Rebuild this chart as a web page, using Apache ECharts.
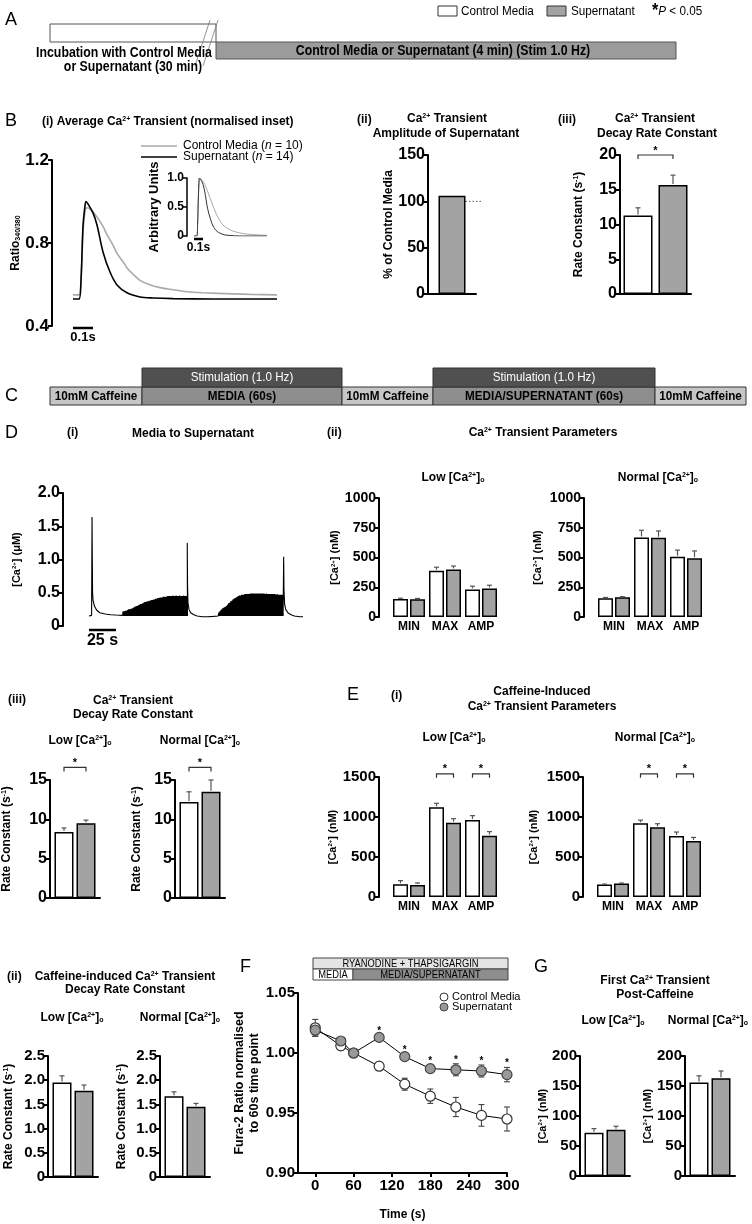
<!DOCTYPE html>
<html><head><meta charset="utf-8">
<script src="https://cdn.jsdelivr.net/npm/echarts@6/dist/echarts.min.js"></script>
<style>html,body{margin:0;padding:0;background:#fff}#c{width:752px;height:1224px}</style>
</head><body><div id="c"></div><script>
// ---------------- DATA ----------------
// B(i) average Ca transient (time in s, Fura-2 ratio)
const bTimeCtrl = [0,0.03,0.04,0.05,0.06,0.07,0.09,0.12,0.15,0.17,0.20,0.22,0.25,0.27,0.30,0.335,0.38,0.435,0.5,0.57,0.65,0.8,0.9,1.02];
const bRatioCtrl = [0.55,0.55,0.62,0.85,0.95,0.97,0.96,0.925,0.88,0.84,0.79,0.75,0.71,0.68,0.65,0.62,0.60,0.585,0.575,0.565,0.56,0.555,0.552,0.55];
const bTimeSup = [0,0.03,0.04,0.05,0.06,0.065,0.08,0.10,0.12,0.15,0.185,0.22,0.27,0.335,0.40,0.50,0.70,0.90,1.02];
const bRatioSup = [0.53,0.53,0.62,0.88,0.98,1.0,0.98,0.945,0.887,0.757,0.66,0.598,0.56,0.54,0.535,0.532,0.53,0.53,0.53];
// B(i) inset (normalised)
const insetTimeCtrl = [0,0.03,0.04,0.05,0.07,0.09,0.12,0.17,0.22,0.27,0.335,0.435,0.57,0.70,0.81];
const insetNormCtrl = [0,0,0.2,0.7,1.0,0.96,0.89,0.69,0.48,0.31,0.17,0.083,0.036,0.02,0.012];
const insetTimeSup = [0,0.03,0.04,0.05,0.06,0.08,0.10,0.12,0.15,0.185,0.22,0.27,0.335,0.40,0.50,0.81];
const insetNormSup = [0,0,0.2,0.75,1.0,0.96,0.89,0.76,0.48,0.28,0.145,0.064,0.02,0.01,0,0];
const bScaleBar = 0.1; // s
// B(ii)
const bAmpSup = [106];
const bAmpRef = [100];
// B(iii)
const bDecayCtrl = [11.3], bDecayCtrlErr = [1.1];
const bDecaySup = [15.7], bDecaySupErr = [1.4];
const bDecayBracket = [[0, 20]];
// D(i) trace (time s, [Ca] uM)
const dRest1 = [[0,0.15],[2.4,0.16],[2.8,1.64],[3.1,0.95],[3.3,0.5],[3.8,0.38],[5,0.3],[7,0.24],[10,0.2],[15,0.18],[20,0.17],[25,0.165],[31,0.16]];
const dRest2 = [[90.6,0.16],[90.9,1.25],[91.2,0.6],[91.6,0.35],[92.5,0.25],[94,0.2],[97,0.17],[100,0.15],[105,0.14],[110,0.14],[115,0.145],[119.5,0.15]];
const dRest3 = [[179.8,0.16],[180.1,1.04],[180.4,0.55],[181,0.33],[182,0.25],[184,0.2],[187,0.17],[190,0.15],[195,0.14],[198,0.14]];
const dBlockStart = [31.5, 120];
const dDiastolic = 0.15;
const block1Peaks = [0.22,0.22,0.23,0.23,0.24,0.25,0.25,0.26,0.26,0.27,
  0.28,0.29,0.30,0.30,0.31,0.32,0.33,0.33,0.34,0.35,
  0.36,0.36,0.37,0.37,0.38,0.38,0.39,0.39,0.40,0.40,
  0.41,0.41,0.42,0.42,0.43,0.43,0.43,0.44,0.44,0.44,
  0.44,0.45,0.45,0.45,0.45,0.45,0.46,0.45,0.45,0.46,
  0.45,0.45,0.46,0.45,0.45,0.45,0.46,0.45,0.45,0.45];
const block2Peaks = [0.20,0.22,0.24,0.26,0.27,0.28,0.29,0.30,0.32,0.34,
  0.35,0.37,0.38,0.40,0.41,0.42,0.43,0.44,0.45,0.46,
  0.46,0.47,0.47,0.47,0.48,0.48,0.48,0.48,0.48,0.49,
  0.49,0.49,0.49,0.49,0.49,0.49,0.49,0.49,0.49,0.49,
  0.49,0.49,0.49,0.48,0.49,0.48,0.48,0.48,0.48,0.48,
  0.48,0.48,0.48,0.47,0.48,0.47,0.47,0.47,0.47,0.47];
const dScaleBar = 25; // s
// D(ii) transient parameters (nM)
const paramCats = ['MIN','MAX','AMP'];
const dLowCtrl = [152,388,232], dLowCtrlErr = [6,30,27];
const dLowSup = [150,400,240], dLowSupErr = [6,28,27];
const dNormCtrl = [158,669,507], dNormCtrlErr = [6,60,55];
const dNormSup = [165,666,493], dNormSupErr = [6,57,62];
// D(iii) decay rate constants (s-1)
const dDecLowCtrl = [8.4], dDecLowCtrlErr = [0.5];
const dDecLowSup = [9.5], dDecLowSupErr = [0.4];
const dDecNormCtrl = [12.2], dDecNormCtrlErr = [1.3];
const dDecNormSup = [13.5], dDecNormSupErr = [1.5];
const dDecBracket = [[0, 16.6]];
// E(i) caffeine-induced parameters (nM)
const eLowCtrl = [160,1121,962], eLowCtrlErr = [45,50,55];
const eLowSup = [150,929,767], eLowSupErr = [25,50,50];
const eNormCtrl = [155,921,762], eNormCtrlErr = [6,40,50];
const eNormSup = [168,871,700], eNormSupErr = [6,45,45];
const eBrackets = [[1, 1540],[2, 1540]];
// E(ii) caffeine decay rate constants
const eDecLowCtrl = [1.95], eDecLowCtrlErr = [0.14];
const eDecLowSup = [1.78], eDecLowSupErr = [0.12];
const eDecNormCtrl = [1.67], eDecNormCtrlErr = [0.09];
const eDecNormSup = [1.45], eDecNormSupErr = [0.07];
// F time course
const fTimes = [0,40,60,100,140,180,220,260,300];
const fCtrl = [1.021,1.006,1.000,0.989,0.974,0.964,0.955,0.948,0.945];
const fCtrlErr = [0.007,0.003,0,0.001,0.005,0.006,0.008,0.009,0.010];
const fSup = [1.019,1.010,1.000,1.013,0.997,0.987,0.986,0.985,0.982];
const fSupErr = [0.005,0.002,0,0.002,0.002,0.003,0.005,0.005,0.006];
const fSigTimes = [100,140,180,220,260,300];
const fXTicks = [0,60,120,180,240,300];
// G first transient post-caffeine (nM)
const gLowCtrl = [72], gLowCtrlErr = [7];
const gLowSup = [77], gLowSupErr = [6];
const gNormCtrl = [156], gNormCtrlErr = [11];
const gNormSup = [163], gNormSupErr = [12];

// ---------------- STYLE / HELPERS ----------------
const FF = "'Liberation Sans', Arial, sans-serif";
const GREY = '#a3a3a3';
const chart = echarts.init(document.getElementById('c'), null, {renderer:'canvas', width:752, height:1224});
const option = {animation:false, backgroundColor:'#fff', grid:[], xAxis:[], yAxis:[], series:[], graphic:[]};

function richStyles(fs, fw){
  fw = fw || 'bold';
  const base = {fontFamily:FF, fontWeight:fw, color:'#000', fill:'#000'};
  return {
    s: Object.assign({}, base, {fontSize:Math.max(6, Math.round(fs*0.55)), verticalAlign:'top'}),
    o: Object.assign({}, base, {fontSize:Math.max(6, Math.round(fs*0.6)), verticalAlign:'bottom'}),
    i: Object.assign({}, base, {fontSize:fs, fontStyle:'italic'}),
    st: Object.assign({}, base, {fontSize:Math.round(fs*1.4), fontWeight:'bold'})
  };
}
// text; o.sx gives a horizontal squeeze (condensed lettering)
function T(x, y, text, o){
  o = o || {};
  const fs = o.fs || 12, fw = o.fw || 'bold', al = o.align || 'center';
  option.graphic.push({type:'text', silent:true, z:10, x:x, y:y, scaleX:o.sx || 1,
    style:{x:0, y:0, text:text, fill:o.fill || '#000',
    fontSize:fs, fontWeight:fw, fontFamily:FF, align:al, verticalAlign:'middle', textAlign:al, textVerticalAlign:'middle',
    rich:richStyles(fs, fw)}});
}
function R(x, y, w, h, fill, stroke){
  option.graphic.push({type:'rect', silent:true, z:5, shape:{x:x, y:y, width:w, height:h}, style:{fill:fill, stroke:stroke || '#333', lineWidth:1}});
}
function L(x1, y1, x2, y2, stroke, lw){
  option.graphic.push({type:'line', silent:true, z:6, shape:{x1:x1, y1:y1, x2:x2, y2:y2}, style:{stroke:stroke, lineWidth:lw || 1}});
}
function yDef(gi, p){
  const nts = {color:'#000', fontWeight:'bold', fontSize:p.nfs || 12, fontFamily:FF, rich:richStyles(p.nfs || 12)};
  if (p.nlh) nts.lineHeight = p.nlh;
  return {type:'value', gridIndex:gi, min:p.min, max:p.max, interval:p.interval, offset:p.offset || 0,
    axisLine:{show:true, onZero:false, lineStyle:{color:'#000', width:p.alw || 2}},
    axisTick:{show:true, length:4, lineStyle:{color:'#000', width:p.alw || 2}},
    splitLine:{show:false},
    axisLabel:{color:'#000', fontWeight:'bold', fontSize:p.fs || 15, fontFamily:FF, margin:3, formatter:p.fmt || (v => String(v))},
    name:p.name || '', nameLocation:'middle', nameGap:p.nameGap || 30, nameRotate:90, nameTextStyle:nts};
}
function fmtD(d){ return v => (v === 0 ? '0' : v.toFixed(d)); }

function barPanel(p){
  const gi = option.grid.length;
  option.grid.push({left:p.l, top:p.t, width:p.w, height:p.h});
  option.xAxis.push({type:'category', gridIndex:gi, data:p.cats, axisLine:{show:p.xLine !== false, onZero:false, lineStyle:{color:'#000', width:2}},
    axisTick:{show:false}, splitLine:{show:false},
    axisLabel:{show:!!p.showCats, color:'#000', fontWeight:'bold', fontSize:12, fontFamily:FF, margin:4, interval:0}});
  option.yAxis.push(yDef(gi, p));
  const xi = option.xAxis.length - 1, yi = option.yAxis.length - 1;
  const bw = p.bw, gap = p.gap || 0;
  const off = p.ctrl ? (bw + gap) / 2 : 0;
  const base = {type:'bar', xAxisIndex:xi, yAxisIndex:yi, barWidth:bw, barGap:(gap / bw * 100) + '%', silent:true, z:2};
  if (p.ctrl) option.series.push(Object.assign({}, base, {name:'Control Media', data:p.ctrl, itemStyle:{color:'#fff', borderColor:'#000', borderWidth:1.5}}));
  option.series.push(Object.assign({}, base, {name:'Supernatant', data:p.sup, itemStyle:{color:GREY, borderColor:'#000', borderWidth:1.5}}));
  const errData = [];
  if (p.ctrlErr) p.ctrl.forEach((v, i) => errData.push([i, v, p.ctrlErr[i], -1]));
  if (p.supErr) p.sup.forEach((v, i) => errData.push([i, v, p.supErr[i], 1]));
  if (errData.length) option.series.push({type:'custom', xAxisIndex:xi, yAxisIndex:yi, data:errData, clip:false, silent:true, z:3,
    renderItem:(pa, api) => {
      const i = api.value(0), v = api.value(1), e = api.value(2), side = api.value(3);
      const a = api.coord([i, v]), b = api.coord([i, v + e]);
      const x = a[0] + side * off;
      return {type:'group', children:[
        {type:'line', shape:{x1:x, y1:a[1] - 1, x2:x, y2:b[1]}, style:{stroke:'#555', lineWidth:1.2}},
        {type:'line', shape:{x1:x - 2.5, y1:b[1], x2:x + 2.5, y2:b[1]}, style:{stroke:'#555', lineWidth:1.2}}]};
    }});
  if (p.brackets) option.series.push({type:'custom', xAxisIndex:xi, yAxisIndex:yi, data:p.brackets, clip:false, silent:true, z:3,
    renderItem:(pa, api) => {
      const c = api.coord([api.value(0), api.value(1)]);
      const x1 = c[0] - off, x2 = c[0] + off, y = c[1];
      return {type:'group', children:[
        {type:'polyline', shape:{points:[[x1, y + 4], [x1, y], [x2, y], [x2, y + 4]]}, style:{stroke:'#333', fill:null, lineWidth:1.2}},
        {type:'text', style:{x:c[0], y:y + 1, text:'*', fill:'#000', fontSize:11, fontWeight:'bold', fontFamily:FF, align:'center', verticalAlign:'bottom', textAlign:'center', textVerticalAlign:'bottom'}}]};
    }});
  return {gi:gi, xi:xi, yi:yi, off:off, bw:bw};
}
function traceGrid(p){
  const gi = option.grid.length;
  option.grid.push({left:p.l, top:p.t, width:p.w, height:p.h});
  option.xAxis.push({type:'value', gridIndex:gi, min:p.xmin, max:p.xmax, show:false});
  option.yAxis.push(yDef(gi, p));
  return {gi:gi, xi:option.xAxis.length - 1, yi:option.yAxis.length - 1};
}
function lineSeries(ax, pts, color, lw, smooth){
  option.series.push({type:'line', xAxisIndex:ax.xi, yAxisIndex:ax.yi, data:pts, symbol:'none', showSymbol:false,
    lineStyle:{color:color, width:lw}, smooth:smooth || false, silent:true, z:3});
}
function scaleBar(ax, x0, len, yv, dy, label, fs){
  option.series.push({type:'custom', xAxisIndex:ax.xi, yAxisIndex:ax.yi, data:[[x0, yv, len]], clip:false, silent:true,
    renderItem:(pa, api) => {
      const a = api.coord([api.value(0), api.value(1)]), b = api.coord([api.value(0) + api.value(2), api.value(1)]);
      const y = a[1] + dy;
      return {type:'group', children:[
        {type:'line', shape:{x1:a[0], y1:y, x2:b[0], y2:y}, style:{stroke:'#000', lineWidth:2.5}},
        {type:'text', style:{x:(a[0] + b[0]) / 2, y:y + 3, text:label, fill:'#000', fontSize:fs, fontWeight:'bold', fontFamily:FF, align:'center', verticalAlign:'top', textAlign:'center', textVerticalAlign:'top'}}]};
    }});
}
const LOW = 'Low [Ca{s|2+}]{o|o}';
const NORMAL = 'Normal [Ca{s|2+}]{o|o}';
const CA_NM = '[Ca{s|2+}] (nM)';
const RATE = 'Rate Constant (s{s|-1})';

// ---------------- PANEL A ----------------
T(5, 20, 'A', {fs:18, fw:'normal', align:'left'});
R(438, 6, 19, 10, '#fff', '#333');
T(461, 11, 'Control Media', {fs:13, fw:'normal', align:'left', sx:0.9});
R(547, 6, 19, 10, GREY, '#333');
T(571, 11, 'Supernatant', {fs:13, fw:'normal', align:'left', sx:0.9});
T(652, 11, '{st|*}{i|P} < 0.05', {fs:13, fw:'normal', align:'left', sx:0.9});
R(50, 24, 166, 18, '#fff', '#555');
R(216, 42, 460, 17, '#9b9b9b', '#555');
L(195, 66, 210, 20, '#777', 0.8);
L(203, 66, 218, 20, '#777', 0.8);
T(124, 53, 'Incubation with Control Media', {fs:14, sx:0.88});
T(133, 67, 'or Supernatant (30 min)', {fs:14, sx:0.88});
T(443, 51, 'Control Media or Supernatant (4 min) (Stim 1.0 Hz)', {fs:14, sx:0.88});

// ---------------- PANEL B ----------------
T(5, 121, 'B', {fs:18, fw:'normal', align:'left'});
T(42, 122, '(i) Average Ca{s|2+} Transient (normalised inset)', {fs:12, align:'left'});
L(141, 146, 177, 146, '#aaa', 1.5);
T(183, 146, 'Control Media ({i|n} = 10)', {fs:12, fw:'normal', align:'left'});
L(141, 157, 177, 157, '#000', 1.5);
T(183, 157, 'Supernatant ({i|n} = 14)', {fs:12, fw:'normal', align:'left'});
T(357, 120, '(ii)', {align:'left'});
T(447, 119, 'Ca{s|2+} Transient');
T(446, 134, 'Amplitude of Supernatant');
T(558, 120, '(iii)', {align:'left'});
T(655, 119, 'Ca{s|2+} Transient');
T(657, 134, 'Decay Rate Constant');

const axB = traceGrid({l:73, t:160, w:204, h:166, xmin:0, xmax:1.02, min:0.4, max:1.2, interval:0.4, offset:21, fs:17, fmt:fmtD(1),
  name:'Ratio{o|340/380}', nfs:12, nameGap:28});
lineSeries(axB, bTimeCtrl.map((t, i) => [t, bRatioCtrl[i]]), '#aaa', 1.6, 0.3);
lineSeries(axB, bTimeSup.map((t, i) => [t, bRatioSup[i]]), '#000', 1.6, 0.3);
scaleBar(axB, 0, bScaleBar, 0.4, 2, '0.1s', 13);

const axI = traceGrid({l:194, t:178, w:73, h:58, xmin:0, xmax:0.81, min:0, max:1, interval:0.5, offset:7, fs:12, alw:1.5, fmt:fmtD(1),
  name:'Arbitrary Units', nfs:13, nameGap:26});
lineSeries(axI, insetTimeCtrl.map((t, i) => [t, insetNormCtrl[i]]), '#aaa', 1, 0.3);
lineSeries(axI, insetTimeSup.map((t, i) => [t, insetNormSup[i]]), '#333', 1, 0.3);
scaleBar(axI, 0, bScaleBar, 0, 3, '0.1s', 12);

const axBA = barPanel({l:428, t:155, w:48, h:139, cats:[''], sup:bAmpSup, bw:27, min:0, max:150, interval:50, fs:16,
  name:'% of Control Media', nfs:12, nameGap:31});
option.series.push({type:'custom', xAxisIndex:axBA.xi, yAxisIndex:axBA.yi, data:[[0, bAmpRef[0]]], clip:false, silent:true, z:1,
  renderItem:(pa, api) => {
    const c = api.coord([api.value(0), api.value(1)]);
    return {type:'line', shape:{x1:c[0] + 13.5, y1:c[1], x2:c[0] + 31, y2:c[1]}, style:{stroke:'#555', lineWidth:1, lineDash:[1.5, 2]}};
  }});
barPanel({l:620, t:155, w:71, h:139, cats:[''], ctrl:bDecayCtrl, ctrlErr:bDecayCtrlErr, sup:bDecaySup, supErr:bDecaySupErr,
  bw:29, gap:6, min:0, max:20, interval:5, fs:16, name:RATE, nfs:12, nameGap:35, brackets:bDecayBracket});

// ---------------- PANEL C ----------------
T(5, 396, 'C', {fs:18, fw:'normal', align:'left'});
const cRow = [[50, 142, '10mM Caffeine', '#c6c6c6'], [142, 342, 'MEDIA (60s)', '#8e8e8e'], [342, 433, '10mM Caffeine', '#c6c6c6'],
  [433, 655, 'MEDIA/SUPERNATANT (60s)', '#8e8e8e'], [655, 746, '10mM Caffeine', '#c6c6c6']];
cRow.forEach(b => { R(b[0], 387, b[1] - b[0], 18, b[3], '#333'); T((b[0] + b[1]) / 2, 396, b[2], {fs:13, sx:0.9}); });
[[142, 342], [433, 655]].forEach(b => { R(b[0], 368, b[1] - b[0], 19, '#505050', '#333'); T((b[0] + b[1]) / 2, 377.5, 'Stimulation (1.0 Hz)', {fs:13, sx:0.9, fw:'normal', fill:'#fff'}); });

// ---------------- PANEL D ----------------
T(5, 433, 'D', {fs:18, fw:'normal', align:'left'});
T(67, 433, '(i)', {align:'left'});
T(193, 434, 'Media to Supernatant');
const axD = traceGrid({l:89, t:493, w:214, h:133, xmin:0, xmax:198, min:0, max:2, interval:0.5, offset:26, fs:16, fmt:fmtD(1),
  name:'[Ca{s|2+}] (μM)', nfs:11, nameGap:41});
const dTrace = [];
dRest1.forEach(p => dTrace.push(p));
block1Peaks.forEach((pk, i) => { const t = dBlockStart[0] + i; dTrace.push([t, dDiastolic], [t + 0.12, pk], [t + 0.6, dDiastolic]); });
dRest2.forEach(p => dTrace.push(p));
block2Peaks.forEach((pk, i) => { const t = dBlockStart[1] + i; dTrace.push([t, dDiastolic], [t + 0.12, pk], [t + 0.6, dDiastolic]); });
dRest3.forEach(p => dTrace.push(p));
lineSeries(axD, dTrace, '#000', 1.1, false);
scaleBar(axD, 0, dScaleBar, 0, 4, '25 s', 16);

T(327, 433, '(ii)', {align:'left'});
T(543, 433, 'Ca{s|2+} Transient Parameters');
T(453, 478, LOW);
T(658, 478, NORMAL);
barPanel({l:391, t:498, w:108, h:119, cats:paramCats, showCats:true, xLine:false, ctrl:dLowCtrl, ctrlErr:dLowCtrlErr, sup:dLowSup, supErr:dLowSupErr,
  bw:15, gap:2, min:0, max:1000, interval:250, offset:12, fs:14, name:CA_NM, nfs:11, nameGap:31});
barPanel({l:596, t:498, w:108, h:119, cats:paramCats, showCats:true, xLine:false, ctrl:dNormCtrl, ctrlErr:dNormCtrlErr, sup:dNormSup, supErr:dNormSupErr,
  bw:15, gap:2, min:0, max:1000, interval:250, offset:12, fs:14, name:CA_NM, nfs:11, nameGap:41});

T(8, 700, '(iii)', {align:'left'});
T(133, 701, 'Ca{s|2+} Transient');
T(133, 715, 'Decay Rate Constant');
T(80, 741, LOW);
T(200, 741, NORMAL);
barPanel({l:50, t:780, w:50, h:118, cats:[''], ctrl:dDecLowCtrl, ctrlErr:dDecLowCtrlErr, sup:dDecLowSup, supErr:dDecLowSupErr,
  bw:19, gap:3, min:0, max:15, interval:5, fs:16, name:RATE, nfs:12, nameGap:37, brackets:dDecBracket});
barPanel({l:175, t:780, w:50, h:118, cats:[''], ctrl:dDecNormCtrl, ctrlErr:dDecNormCtrlErr, sup:dDecNormSup, supErr:dDecNormSupErr,
  bw:19, gap:3, min:0, max:15, interval:5, fs:16, name:RATE, nfs:12, nameGap:32, brackets:dDecBracket});

// ---------------- PANEL E ----------------
T(347, 695, 'E', {fs:18, fw:'normal', align:'left'});
T(391, 696, '(i)', {align:'left'});
T(542, 692, 'Caffeine-Induced');
T(542, 707, 'Ca{s|2+} Transient Parameters');
T(454, 738, LOW);
T(655, 738, NORMAL);
barPanel({l:391, t:777, w:108, h:120, cats:paramCats, showCats:true, xLine:false, ctrl:eLowCtrl, ctrlErr:eLowCtrlErr, sup:eLowSup, supErr:eLowSupErr,
  bw:15, gap:2, min:0, max:1500, interval:500, offset:12, fs:15, name:CA_NM, nfs:11, nameGap:40, brackets:eBrackets});
barPanel({l:595, t:777, w:108, h:120, cats:paramCats, showCats:true, xLine:false, ctrl:eNormCtrl, ctrlErr:eNormCtrlErr, sup:eNormSup, supErr:eNormSupErr,
  bw:15, gap:2, min:0, max:1500, interval:500, offset:12, fs:15, name:CA_NM, nfs:11, nameGap:44, brackets:eBrackets});

T(7, 977, '(ii)', {align:'left'});
T(125, 977, 'Caffeine-induced Ca{s|2+} Transient');
T(125, 990, 'Decay Rate Constant');
T(72, 1018, LOW);
T(180, 1018, NORMAL);
barPanel({l:48, t:1056, w:50, h:121, cats:[''], ctrl:eDecLowCtrl, ctrlErr:eDecLowCtrlErr, sup:eDecLowSup, supErr:eDecLowSupErr,
  bw:19, gap:3, min:0, max:2.5, interval:0.5, fs:15, fmt:fmtD(1), name:RATE, nfs:12, nameGap:33});
barPanel({l:160, t:1056, w:50, h:121, cats:[''], ctrl:eDecNormCtrl, ctrlErr:eDecNormCtrlErr, sup:eDecNormSup, supErr:eDecNormSupErr,
  bw:19, gap:3, min:0, max:2.5, interval:0.5, fs:15, fmt:fmtD(1), name:RATE, nfs:12, nameGap:32});

// ---------------- PANEL F ----------------
T(240, 967, 'F', {fs:18, fw:'normal', align:'left'});
R(313, 958, 195, 11, '#e4e4e4', '#444');
T(410.5, 963.5, 'RYANODINE + THAPSIGARGIN', {fs:11, fw:'normal', sx:0.85});
R(313, 969, 40, 11, '#fff', '#444');
T(333, 974.5, 'MEDIA', {fs:11, fw:'normal', sx:0.85});
R(353, 969, 155, 11, '#8e8e8e', '#444');
T(430.5, 974.5, 'MEDIA/SUPERNATANT', {fs:11, fw:'normal', sx:0.85});
{
  const gi = option.grid.length;
  option.grid.push({left:298, top:993, width:209, height:180});
  option.xAxis.push({type:'value', gridIndex:gi, min:-27, max:300,
    axisLine:{show:true, onZero:false, lineStyle:{color:'#000', width:2}},
    axisTick:{show:true, length:4, customValues:fXTicks, lineStyle:{color:'#000', width:2}},
    axisLabel:{color:'#000', fontWeight:'bold', fontSize:15, fontFamily:FF, margin:5, customValues:fXTicks},
    splitLine:{show:false}, name:'Time (s)', nameLocation:'middle', nameGap:36,
    nameTextStyle:{color:'#000', fontWeight:'bold', fontSize:12, fontFamily:FF}});
  option.yAxis.push(yDef(gi, {min:0.9, max:1.05, interval:0.05, fs:15, fmt:v => v.toFixed(2),
    name:'Fura-2 Ratio normalised\nto 60s time point', nfs:12.5, nlh:15, nameGap:35}));
  const xi = option.xAxis.length - 1, yi = option.yAxis.length - 1;
  option.series.push({type:'custom', xAxisIndex:xi, yAxisIndex:yi, clip:false, silent:true, z:2,
    data:fTimes.map((t, i) => [t, fCtrl[i], fCtrlErr[i]]).concat(fTimes.map((t, i) => [t, fSup[i], fSupErr[i]])),
    renderItem:(pa, api) => {
      const t = api.value(0), v = api.value(1), e = api.value(2);
      if (!e) return {type:'group', children:[]};
      const a = api.coord([t, v + e]), b = api.coord([t, v - e]);
      const st = {stroke:'#333', lineWidth:1};
      return {type:'group', children:[
        {type:'line', shape:{x1:a[0], y1:a[1], x2:b[0], y2:b[1]}, style:st},
        {type:'line', shape:{x1:a[0] - 3, y1:a[1], x2:a[0] + 3, y2:a[1]}, style:st},
        {type:'line', shape:{x1:b[0] - 3, y1:b[1], x2:b[0] + 3, y2:b[1]}, style:st}]};
    }});
  option.series.push({type:'line', name:'Control Media', xAxisIndex:xi, yAxisIndex:yi, data:fTimes.map((t, i) => [t, fCtrl[i]]),
    symbol:'circle', symbolSize:10, lineStyle:{color:'#000', width:1}, itemStyle:{color:'#fff', borderColor:'#333', borderWidth:1.2}, silent:true, z:4});
  option.series.push({type:'line', name:'Supernatant', xAxisIndex:xi, yAxisIndex:yi, data:fTimes.map((t, i) => [t, fSup[i]]),
    symbol:'circle', symbolSize:10, lineStyle:{color:'#000', width:1}, itemStyle:{color:'#999', borderColor:'#444', borderWidth:1.2}, silent:true, z:4});
  option.series.push({type:'custom', xAxisIndex:xi, yAxisIndex:yi, clip:false, silent:true, z:5,
    data:fSigTimes.map(t => { const i = fTimes.indexOf(t); return [t, fSup[i] + fSupErr[i]]; }),
    renderItem:(pa, api) => {
      const c = api.coord([api.value(0), api.value(1)]);
      return {type:'text', style:{x:c[0], y:c[1] + 1, text:'*', fill:'#000', fontSize:10, fontWeight:'bold', fontFamily:FF, align:'center', verticalAlign:'bottom', textAlign:'center', textVerticalAlign:'bottom'}};
    }});
}
option.graphic.push({type:'circle', silent:true, z:10, shape:{cx:444, cy:997, r:4}, style:{fill:'#fff', stroke:'#333', lineWidth:1}});
T(452, 997, 'Control Media', {fs:11, fw:'normal', align:'left'});
option.graphic.push({type:'circle', silent:true, z:10, shape:{cx:444, cy:1007, r:4}, style:{fill:'#999', stroke:'#444', lineWidth:1}});
T(452, 1007, 'Supernatant', {fs:11, fw:'normal', align:'left'});

// ---------------- PANEL G ----------------
T(534, 967, 'G', {fs:18, fw:'normal', align:'left'});
T(655, 981, 'First Ca{s|2+} Transient');
T(655, 995, 'Post-Caffeine');
T(613, 1021, LOW);
T(708, 1021, NORMAL);
barPanel({l:580, t:1056, w:50, h:120, cats:[''], ctrl:gLowCtrl, ctrlErr:gLowCtrlErr, sup:gLowSup, supErr:gLowSupErr,
  bw:19, gap:3, min:0, max:200, interval:50, fs:15, name:CA_NM, nfs:11, nameGap:28});
barPanel({l:685, t:1056, w:50, h:120, cats:[''], ctrl:gNormCtrl, ctrlErr:gNormCtrlErr, sup:gNormSup, supErr:gNormSupErr,
  bw:19, gap:3, min:0, max:200, interval:50, fs:15, name:CA_NM, nfs:11, nameGap:32});

chart.setOption(option);
</script></body></html>
